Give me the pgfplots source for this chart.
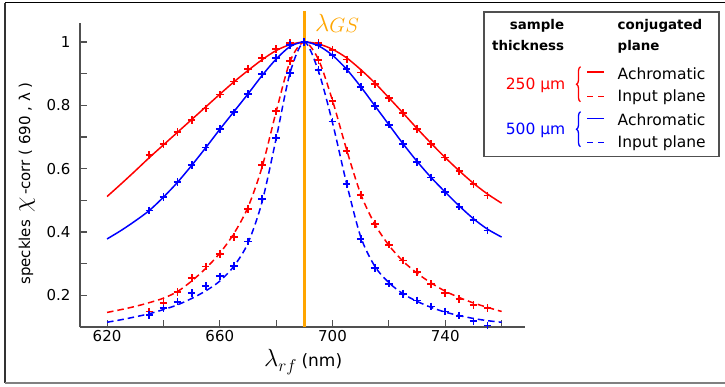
\documentclass[border=0pt]{standalone}
\usepackage{fontspec}
\setmainfont{DejaVu Sans}
\usepackage{pgfplots}
\usepackage{pgfplotstable}
\pgfplotsset{compat=1.18}
\usetikzlibrary{decorations.pathreplacing}
\definecolor{gsorange}{HTML}{FFA500}
\definecolor{spine}{HTML}{505050}
\definecolor{pblue}{HTML}{0000FF}
\definecolor{pred}{HTML}{FF0000}

% measured points (+ markers)
\pgfplotstableread{
x ra rb ia ib
635 0.644 0.468 0.149 0.137
640 0.678 0.510 0.176 0.159
645 0.715 0.557 0.210 0.180
650 0.754 0.612 0.255 0.207
655 0.790 0.667 0.291 0.230
660 0.834 0.725 0.330 0.260
665 0.875 0.778 0.384 0.293
670 0.914 0.836 0.472 0.370
675 0.949 0.898 0.612 0.505
680 0.977 0.950 0.781 0.698
685 0.996 0.991 0.940 0.903
690 1.000 1.000 1.000 1.000
695 0.996 0.990 0.943 0.912
700 0.975 0.959 0.814 0.749
705 0.945 0.914 0.657 0.552
710 0.904 0.857 0.517 0.378
715 0.868 0.798 0.426 0.287
720 0.822 0.739 0.360 0.237
725 0.775 0.678 0.310 0.205
730 0.726 0.622 0.274 0.184
735 0.678 0.572 0.236 0.165
740 0.635 0.527 0.207 0.149
745 0.593 0.480 0.188 0.136
750 0.552 0.438 0.170 0.118
755 0.515 0.405 0.160 0.105
}\marktab

% fitted curves
\pgfplotstableread{
x fa fb fc fd
620 0.512 0.378 0.146 0.115
625 0.552 0.405 0.155 0.123
630 0.593 0.435 0.165 0.132
635 0.635 0.468 0.177 0.142
640 0.675 0.510 0.191 0.155
645 0.715 0.557 0.212 0.170
650 0.755 0.610 0.245 0.190
655 0.795 0.666 0.285 0.214
660 0.835 0.724 0.333 0.245
665 0.874 0.780 0.395 0.292
670 0.910 0.836 0.478 0.365
675 0.944 0.894 0.605 0.495
680 0.973 0.946 0.780 0.695
685 0.992 0.986 0.940 0.905
690 1.000 1.000 1.000 1.000
695 0.994 0.988 0.945 0.908
700 0.977 0.958 0.815 0.745
705 0.950 0.914 0.660 0.553
710 0.913 0.859 0.520 0.385
715 0.871 0.799 0.425 0.292
720 0.824 0.739 0.358 0.240
725 0.776 0.679 0.308 0.205
730 0.727 0.623 0.270 0.181
735 0.680 0.572 0.239 0.162
740 0.635 0.526 0.213 0.147
745 0.593 0.482 0.193 0.136
750 0.554 0.442 0.176 0.127
755 0.520 0.409 0.162 0.120
760 0.491 0.384 0.149 0.115
}\fittab

\begin{document}
\begin{tikzpicture}
\useasboundingbox (0,0) rectangle (725bp,-387bp);
\begin{axis}[
  at={(80bp,-327bp)}, anchor=south west,
  scale only axis, width=445bp, height=304.3bp,
  xmin=610.4, xmax=768.3, ymin=0.1, ymax=1.061,
  axis x line*=bottom, axis y line*=left,
  axis line style={-, spine, line width=1.3bp},
  xtick={620,640,660,680,700,720,740,760},
  xticklabels={620,,660,,700,,740,},
  ytick={0.2,0.3,0.4,0.5,0.6,0.7,0.8,0.9,1.0},
  yticklabels={0.2,,0.4,,0.6,,0.8,,1},
  tick align=inside, major tick length=7bp,
  tick style={spine, line width=1.1bp},
  every tick label/.append style={font=\fontsize{15bp}{18bp}\selectfont, text=black},
  xticklabel style={anchor=base, yshift=-14bp},
  yticklabel style={anchor=east, xshift=-6bp},
  clip=false,
  markstyle/.style={only marks, mark=+, mark size=3.8bp, mark options={solid, line width=1.8bp, draw=#1}, draw=#1, color=#1},
]
\draw[gsorange, line width=3bp] (axis cs:690,0.1) -- (axis cs:690,1.098);
\addplot[pred, line width=1.5bp, smooth] table[x=x,y=fa]{\fittab};
\addplot[pblue, line width=1.5bp, smooth] table[x=x,y=fb]{\fittab};
\addplot[pred, line width=1.5bp, smooth, dash pattern=on 6.5bp off 4bp] table[x=x,y=fc]{\fittab};
\addplot[pblue, line width=1.5bp, smooth, dash pattern=on 6.5bp off 4bp] table[x=x,y=fd]{\fittab};
\addplot[markstyle=pred] table[x=x,y=ra]{\marktab};
\addplot[markstyle=pblue] table[x=x,y=rb]{\marktab};
\addplot[markstyle=pred] table[x=x,y=ia]{\marktab};
\addplot[markstyle=pblue] table[x=x,y=ib]{\marktab};
\end{axis}
\begin{scope}[x=1bp,y=-1bp]
  % outer frame
  \draw[black, line width=1.4bp] (4.8,2.7) -- (726,2.7);
  \draw[black!80, line width=1.4bp] (4.8,2.7) -- (4.8,383.3);
  \draw[gray, line width=1.8bp] (4.8,383.3) -- (726,383.3);
  % lambda_GS
  \node[anchor=base west, inner sep=0, text=gsorange] at (315,31)
    {{\fontsize{26bp}{28bp}\selectfont$\lambda$}\raisebox{-1bp}{\fontsize{19bp}{21bp}\selectfont$GS$}};
  % x label
  \node[anchor=base west, inner sep=0] at (264,366)
    {{\fontsize{26bp}{28bp}\selectfont$\lambda$}\raisebox{-5bp}{\fontsize{17bp}{19bp}\selectfont$rf$}\hspace{5bp}{\fontsize{17bp}{20bp}\selectfont(nm)}};
  % y label
  \node[anchor=base west, inner sep=0, rotate=90] at (30,285)
    {\fontsize{15bp}{18bp}\selectfont speckles\hspace{8bp}{\fontsize{25bp}{27bp}\selectfont$\chi$}\hspace{2bp}-corr ( 690 , λ )};
  % legend
  \draw[spine, line width=1.4bp, fill=white] (484,12) rectangle (719,156.5);
  \begin{scope}[every node/.style={inner sep=0}]
  \node[anchor=base east, font=\bfseries\fontsize{13.4bp}{16bp}\selectfont] at (564.3,29) {sample};
  \node[anchor=base east, font=\bfseries\fontsize{13.4bp}{16bp}\selectfont] at (564.3,50) {thickness};
  \node[anchor=base west, font=\bfseries\fontsize{13.4bp}{16bp}\selectfont] at (617.5,29) {conjugated};
  \node[anchor=base west, font=\bfseries\fontsize{13.4bp}{16bp}\selectfont] at (617.5,50) {plane};
  \node[anchor=base east, text=pred, font=\fontsize{15.5bp}{18bp}\selectfont] at (565.5,89.3) {250 µm};
  \node[anchor=base east, text=pblue, font=\fontsize{15.5bp}{18bp}\selectfont] at (565.5,134.5) {500 µm};
  \node[anchor=base west, font=\fontsize{15.5bp}{18bp}\selectfont] at (617.5,79.3) {Achromatic};
  \node[anchor=base west, font=\fontsize{15.5bp}{18bp}\selectfont] at (617.5,101.7) {Input plane};
  \node[anchor=base west, font=\fontsize{15.5bp}{18bp}\selectfont] at (617.5,125.5) {Achromatic};
  \node[anchor=base west, font=\fontsize{15.5bp}{18bp}\selectfont] at (617.5,147.3) {Input plane};
  \end{scope}
  \draw[pred, line width=1.3bp, decorate, decoration={brace, amplitude=4bp}] (580.5,101.7) -- (580.5,66.7);
  \draw[pblue, line width=1.3bp, decorate, decoration={brace, amplitude=4bp}] (580.5,146.7) -- (580.5,111.7);
  \draw[pred, line width=1.5bp] (587.3,72) -- (604,72);
  \draw[pred, line width=1.5bp, dash pattern=on 6bp off 5bp] (587.3,96.7) -- (604,96.7);
  \draw[pblue, line width=1.5bp] (587.3,118.3) -- (604,118.3);
  \draw[pblue, line width=1.5bp, dash pattern=on 6bp off 5bp] (587.3,142.7) -- (604,142.7);
\end{scope}
\end{tikzpicture}
\end{document}
